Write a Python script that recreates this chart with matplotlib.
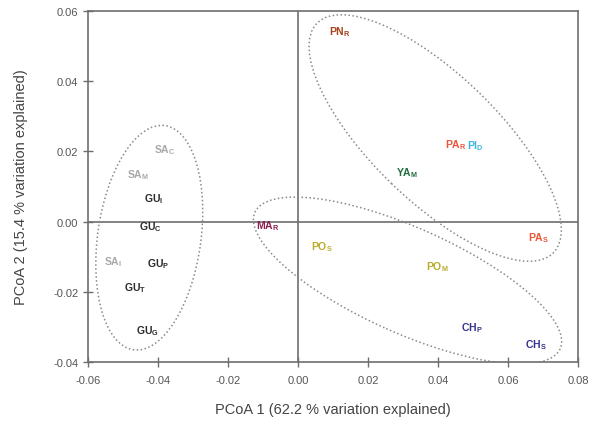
import matplotlib.pyplot as plt
from matplotlib.patches import Ellipse

plt.rcParams['font.family'] = ['Liberation Sans', 'DejaVu Sans']
plt.rcParams['mathtext.fontset'] = 'custom'
plt.rcParams['mathtext.rm'] = 'Liberation Sans'
plt.rcParams['mathtext.bf'] = 'Liberation Sans:bold'

# sample labels (name, subscript) and PCoA coordinates
names = ["PN", "PA", "PI", "YA", "MA", "PA", "PO", "PO", "CH", "CH",
         "SA", "SA", "GU", "GU", "SA", "GU", "GU", "GU"]
subs = ["R", "R", "D", "M", "R", "S", "S", "M", "P", "S",
        "C", "M", "I", "C", "I", "P", "T", "G"]
pc1 = [0.0120, 0.0451, 0.0508, 0.0311, -0.0086, 0.0686, 0.0069, 0.0397, 0.0497, 0.0680,
       -0.0380, -0.0457, -0.0414, -0.0423, -0.0529, -0.0400, -0.0466, -0.0431]
pc2 = [0.0544, 0.0222, 0.0219, 0.0142, -0.0009, -0.0043, -0.0071, -0.0128, -0.0302, -0.0350,
       0.0205, 0.0134, 0.0066, -0.0014, -0.0114, -0.0117, -0.0188, -0.0308]
cols = ["#a8401c", "#e8553a", "#3ab4e0", "#1f6b3f", "#8c1f50", "#e8553a", "#b9ab2a", "#b9ab2a",
        "#33338f", "#33338f",
        "#a8a8a8", "#a8a8a8", "#2a2a2a", "#2a2a2a", "#a8a8a8", "#2a2a2a", "#2a2a2a", "#2a2a2a"]

# group ellipses: centre x, centre y, width, height, angle
ell_x = [-0.0425, 0.0392, 0.0313]
ell_y = [-0.0046, 0.0238, -0.0168]
ell_w = [0.0645, 0.094, 0.0955]
ell_h = [0.0295, 0.036, 0.030]
ell_a = [82, -44, -24]

fig = plt.figure(figsize=(6.03, 4.27), dpi=100)
ax = fig.add_axes([0.146, 0.150, 0.8125, 0.822])

ax.axhline(0, color="#6e6e6e", lw=1.2, zorder=1)
ax.axvline(0, color="#6e6e6e", lw=1.2, zorder=1)

for cx, cy, w, h, a in zip(ell_x, ell_y, ell_w, ell_h, ell_a):
    ax.add_patch(Ellipse((cx, cy), w, h, angle=a, fill=False, ec="#8a8a8a",
                         lw=1.1, ls=(0, (1, 1.6)), zorder=2))

for n, s, x, y, c in zip(names, subs, pc1, pc2, cols):
    ax.text(x, y, r"$\mathbf{%s}_\mathbf{%s}$" % (n, s), color=c, fontsize=7.5,
            ha="center", va="center", zorder=3)

ax.set_xlim(-0.06, 0.08)
ax.set_ylim(-0.04, 0.06)
ax.set_xticks([-0.06, -0.04, -0.02, 0.0, 0.02, 0.04, 0.06, 0.08])
ax.set_yticks([-0.04, -0.02, 0.0, 0.02, 0.04, 0.06])
ax.xaxis.set_major_formatter(plt.FormatStrFormatter("%.2f"))
ax.yaxis.set_major_formatter(plt.FormatStrFormatter("%.2f"))

for sp in ax.spines.values():
    sp.set_color("#6e6e6e")
    sp.set_linewidth(1.2)
ax.tick_params(direction="inout", length=7, width=1.0, color="#6e6e6e",
               labelsize=8, labelcolor="#555555")
ax.tick_params(axis="x", pad=6)

ax.set_xlabel("PCoA 1 (62.2 % variation explained)", fontsize=10.5, color="#444444", labelpad=12)
ax.set_ylabel("PCoA 2 (15.4 % variation explained)", fontsize=10.5, color="#444444", labelpad=18)

fig.savefig("out.png", dpi=100)
